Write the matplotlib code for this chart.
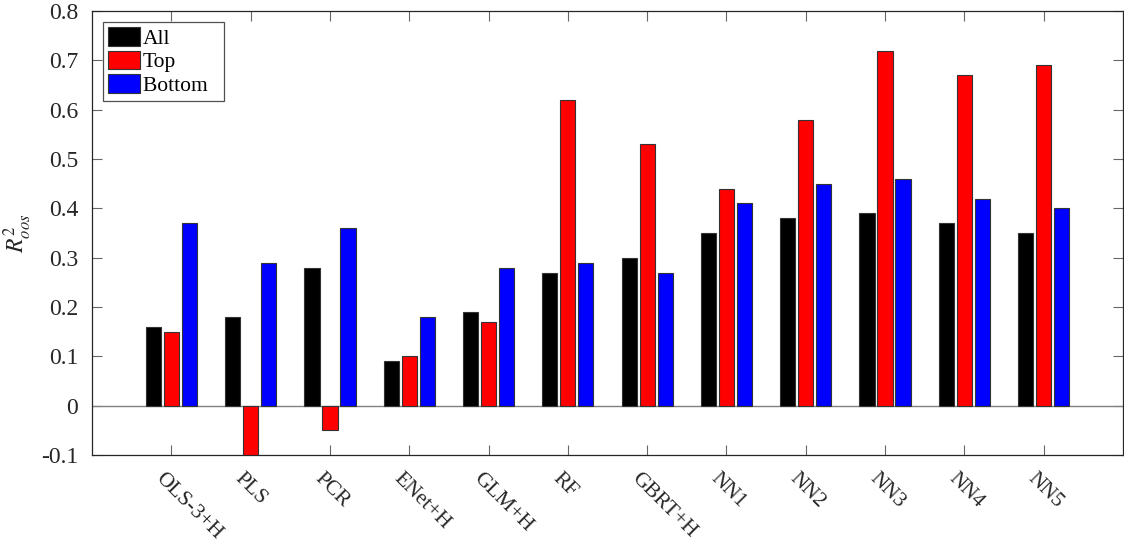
import numpy as np
import matplotlib
matplotlib.use('Agg')
import matplotlib.pyplot as plt
import matplotlib.transforms as mtransforms

plt.rcParams['font.family'] = ['Liberation Serif', 'DejaVu Serif']
plt.rcParams['mathtext.fontset'] = 'stix'

models = ['OLS-3+H', 'PLS', 'PCR', 'ENet+H', 'GLM+H', 'RF', 'GBRT+H',
          'NN1', 'NN2', 'NN3', 'NN4', 'NN5']
r2_all = [0.16, 0.18, 0.28, 0.09, 0.19, 0.27, 0.30, 0.35, 0.38, 0.39, 0.37, 0.35]
r2_top = [0.15, -0.10, -0.05, 0.10, 0.17, 0.62, 0.53, 0.44, 0.58, 0.72, 0.67, 0.69]
r2_bottom = [0.37, 0.29, 0.36, 0.18, 0.28, 0.29, 0.27, 0.41, 0.45, 0.46, 0.42, 0.40]

fig = plt.figure(figsize=(11.24, 5.44), dpi=100)
ax = fig.add_axes([0.082, 0.1636, 0.917, 0.816])

x = np.arange(1, len(models) + 1)
w = 0.19
off = 0.227
edge = '#333333'
ax.bar(x - off, r2_all, w, color='black', edgecolor=edge, lw=0.8, label='All', zorder=3)
ax.bar(x, r2_top, w, color='#ff0000', edgecolor=edge, lw=0.8, label='Top', zorder=3)
ax.bar(x + off, r2_bottom, w, color='#0000ff', edgecolor=edge, lw=0.8, label='Bottom  ', zorder=3)
ax.axhline(0, color='#808080', lw=1.0, zorder=2)

ax.set_xlim(0, 13)
ax.set_ylim(-0.1, 0.8)
ax.set_yticks(np.arange(-0.1, 0.81, 0.1))
ax.set_yticklabels(['-0.1', '0', '0.1', '0.2', '0.3', '0.4', '0.5', '0.6', '0.7', '0.8'])
ax.set_xticks(x)
ax.set_xticklabels([])

# rotated category labels, placed like MATLAB's XTickLabelRotation
shift = mtransforms.ScaledTranslation(-6 / 100, -14 / 100, fig.dpi_scale_trans)
for xi, name in zip(x, models):
    ax.text(xi, 0, name, transform=ax.get_xaxis_transform() + shift,
            rotation=-45, ha='left', va='top', rotation_mode='anchor',
            fontsize=15.5, color='#262626')

ax.tick_params(direction='in', length=7, width=0.8, top=True, right=True,
               color='#666666', labelcolor='#262626')
ax.tick_params(axis='y', labelsize=17, pad=10)
for s in ax.spines.values():
    s.set_color('#262626')
    s.set_linewidth(0.9)

ax.set_ylabel(r'$R^2_{oos}$', fontsize=17, color='#262626', labelpad=5)

leg = ax.legend(loc='upper left', fontsize=15.5, frameon=True, fancybox=False,
                edgecolor='#262626', borderpad=0.25, labelspacing=0.08,
                handlelength=1.45, handleheight=0.95, handletextpad=0.15,
                borderaxespad=0.5)
leg.get_frame().set_linewidth(0.9)

fig.savefig('out.png', dpi=100)
